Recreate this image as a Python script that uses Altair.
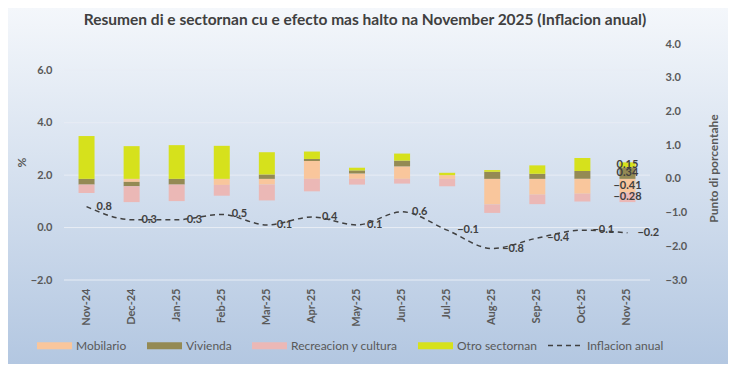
import altair as alt
import pandas as pd

months = ["Nov-24", "Dec-24", "Jan-25", "Feb-25", "Mar-25", "Apr-25", "May-25",
          "Jun-25", "Jul-25", "Aug-25", "Sep-25", "Oct-25", "Nov-25"]
series = ["Mobilario", "Vivienda", "Recreacion y cultura", "Otro sectornan"]
mobilario = [0.00, -0.09, 0.00, -0.18, -0.17, 0.53, 0.16, 0.37, 0.11, -0.76, -0.47, -0.44, -0.41]
vivienda = [-0.17, -0.13, -0.17, 0.00, 0.13, 0.06, 0.09, 0.17, 0.00, 0.21, 0.15, 0.23, 0.34]
recreacion = [-0.25, -0.47, -0.49, -0.32, -0.47, -0.37, -0.17, -0.14, -0.22, -0.25, -0.28, -0.23, -0.28]
otro = [1.27, 0.97, 1.00, 0.98, 0.66, 0.22, 0.08, 0.21, 0.07, 0.05, 0.25, 0.39, 0.15]
inflacion = [0.8, 0.3, 0.3, 0.5, 0.1, 0.4, 0.1, 0.6, -0.1, -0.8, -0.4, -0.1, -0.2]
left_ticks = [-2, 0, 2, 4, 6]
right_ticks = [-3, -2, -1, 0, 1, 2, 3, 4]
colors = ["#F9C69C", "#948A54", "#EBB8B6", "#D6E11C"]
label_month = "Nov-25"

rows = []
for si, (name, vals) in enumerate(zip(series, [mobilario, vivienda, recreacion, otro])):
    for m, v in zip(months, vals):
        rows.append({"month": m, "series": name, "value": v, "order": si})
df_bars = pd.DataFrame(rows)
df_line = pd.DataFrame({"month": months, "inflacion": inflacion,
                        "serie": ["Inflacion anual"] * len(months)})
df_grid = pd.DataFrame({"g": left_ticks})

W, H = 586, 236
PAD = {"left": 56, "top": 36, "right": 78, "bottom": 84}
FONT = "Lato"
GRAY = "#595959"

x_enc = alt.X("month:N", sort=months, title=None,
              scale=alt.Scale(domain=months, paddingInner=0, paddingOuter=0),
              axis=alt.Axis(labelAngle=-90, labelPadding=8, ticks=False, domain=False,
                            grid=False, labelFontSize=11, zindex=1))

right_scale = alt.Scale(domain=[-3, 4], nice=False, zero=False)
right_axis = alt.Axis(orient="right", values=right_ticks, format=".1f", grid=False,
                      domain=False, ticks=False, labelPadding=15, titlePadding=34,
                      titleAngle=270, titleY=124, labelFontSize=11, titleFontSize=12,
                      zindex=1)
left_scale = alt.Scale(domain=[-2, 7], nice=False, zero=False)
left_axis = alt.Axis(orient="left", values=left_ticks, format=".1f", grid=False,
                     domain=False, ticks=False, labelPadding=12, titlePadding=2,
                     labelFontSize=11, titleFontSize=12, zindex=1)

bg = alt.Chart(alt.Data(values=[{"a": 1}])).mark_rect(
    fill=alt.Gradient(gradient="linear",
                      stops=[alt.GradientStop(color="#F4F7FB", offset=0),
                             alt.GradientStop(color="#B3C7E1", offset=1)],
                      x1=0, x2=0, y1=0, y2=1)
).encode(x=alt.value(-PAD["left"]), x2=alt.value(W + PAD["right"]),
         y=alt.value(-PAD["top"]), y2=alt.value(H + PAD["bottom"]))

grid = alt.Chart(df_grid).mark_rule(color="#E8EDF5", strokeWidth=1).encode(
    y=alt.Y("g:Q", scale=left_scale, axis=None),
    x=alt.value(0), x2=alt.value(W),
)

bars = alt.Chart(df_bars).mark_bar(size=16).encode(
    x=x_enc,
    y=alt.Y("value:Q", stack="zero", scale=right_scale, axis=right_axis,
            title="Punto di porcentahe"),
    color=alt.Color("series:N", scale=alt.Scale(domain=series, range=colors),
                    legend=alt.Legend(orient="none", legendX=-27, legendY=284,
                                      direction="horizontal", columns=4,
                                      symbolType="M-1,-0.2H1V0.2H-1Z", symbolSize=1225,
                                      symbolStrokeWidth=0, labelOffset=4, columnPadding=20,
                                      title=None, padding=0, labelFontSize=12)),
    order=alt.Order("order:Q"),
)

bar_text = alt.Chart(df_bars).transform_filter(
    alt.datum.month == label_month
).transform_stack(
    stack="value", groupby=["month"], as_=["v0", "v1"], sort=[alt.SortField("order")]
).transform_calculate(
    mid="(datum.v0 + datum.v1) / 2"
).mark_text(fontSize=11, fontWeight="bold", color="#404040", font=FONT).encode(
    x=x_enc,
    y=alt.Y("mid:Q", scale=right_scale, axis=right_axis, title="Punto di porcentahe"),
    text=alt.Text("value:Q", format=".2f"),
)

line = alt.Chart(df_line).mark_line(color="#404040", strokeWidth=1.5,
                                    interpolate="monotone").encode(
    x=x_enc,
    y=alt.Y("inflacion:Q", scale=left_scale, axis=left_axis, title="%"),
    strokeDash=alt.StrokeDash("serie:N",
                              scale=alt.Scale(domain=["Inflacion anual"], range=[[5, 4]]),
                              legend=alt.Legend(orient="none", legendX=483, legendY=284,
                                                symbolType="stroke", symbolSize=1089,
                                                symbolStrokeColor="#404040",
                                                symbolStrokeWidth=1.5, labelOffset=5,
                                                title=None, padding=0, labelFontSize=12)),
)

line_text = alt.Chart(df_line).mark_text(align="left", baseline="middle", dx=10,
                                         fontSize=11, fontWeight="bold", color="#404040",
                                         font=FONT).encode(
    x=x_enc,
    y=alt.Y("inflacion:Q", scale=left_scale, axis=left_axis, title="%"),
    text=alt.Text("inflacion:Q", format=".1f"),
)

chart = alt.layer(
    bg,
    grid,
    alt.layer(bars, bar_text),
    alt.layer(line, line_text),
).resolve_scale(y="independent").properties(
    width=W, height=H,
    padding=PAD,
    autosize=alt.AutoSizeParams(type="none"),
    title=alt.TitleParams(
        "Resumen di e sectornan cu e efecto mas halto na November 2025 (Inflacion anual)",
        fontSize=15.5, font=FONT, fontWeight="bold", color="#404040", anchor="middle",
        offset=-20, dx=8),
).configure_view(stroke=None).configure_axis(
    labelFont=FONT, labelColor=GRAY, labelFontWeight="bold",
    titleFont=FONT, titleColor=GRAY, titleFontWeight="bold",
).configure_legend(
    labelFont=FONT, labelColor=GRAY, labelFontWeight="normal",
).properties(background="#D9E3EF")

chart.save("out.html", embed_options={"renderer": "svg", "actions": False})
